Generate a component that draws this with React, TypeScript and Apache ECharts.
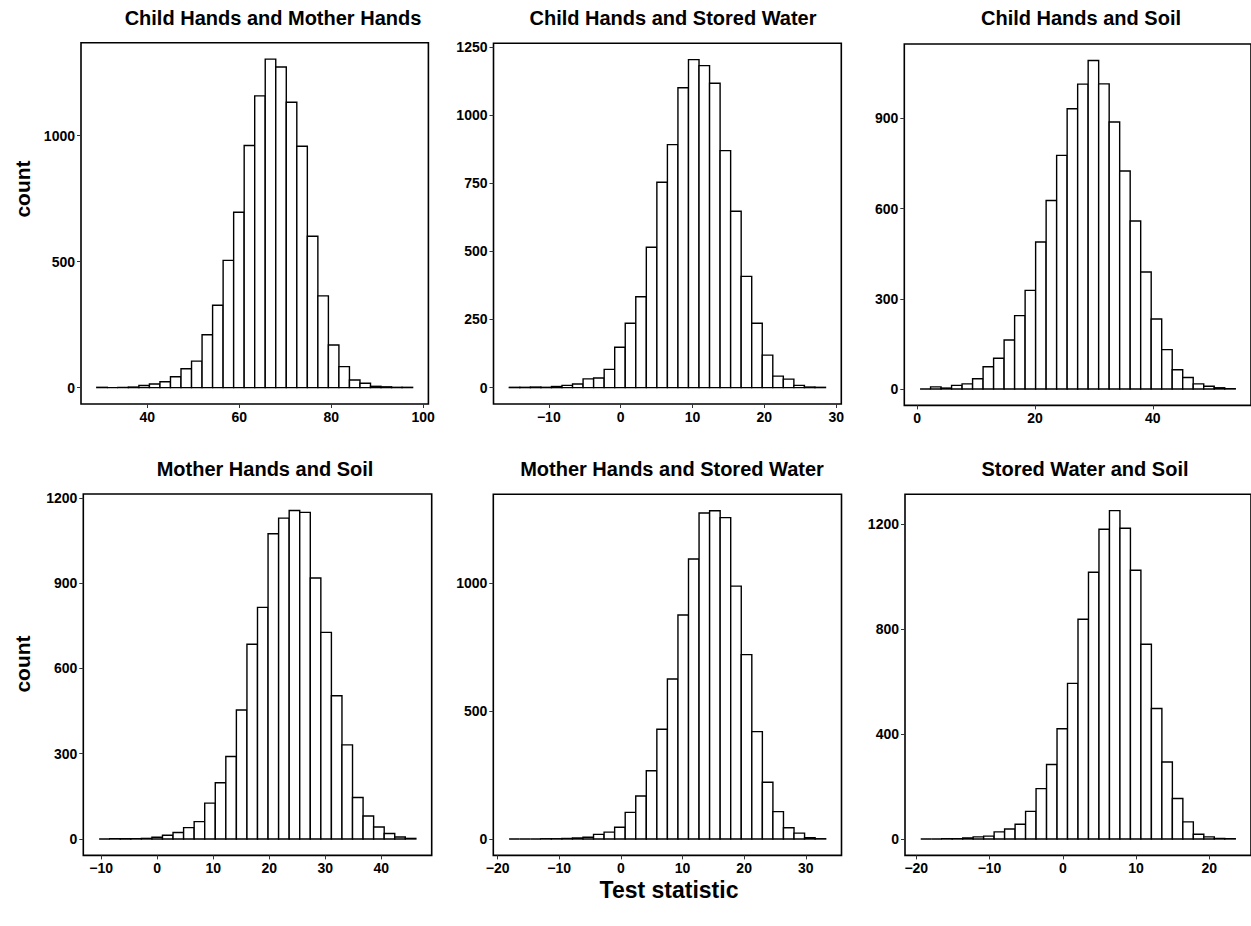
import React, { useEffect, useRef } from "react";
import * as echarts from "echarts";

// Permutation test statistic histograms, 30 bins per panel.
const panelTitles = [
  "Child Hands and Mother Hands",
  "Child Hands and Stored Water",
  "Child Hands and Soil",
  "Mother Hands and Soil",
  "Mother Hands and Stored Water",
  "Stored Water and Soil",
];

// Left edge of the first bin and bin width for each panel.
const binStarts = [29, -15.5, 0.5, -10.36, -18.13, -19.39];
const binWidths = [2.29, 1.467, 1.783, 1.885, 1.712, 1.431];

// Bin counts.
const childMother = [1, 0, 1, 2, 8, 14, 23, 43, 75, 105, 210, 327, 505, 696, 961, 1158, 1304, 1273, 1133, 958, 601, 364, 169, 83, 30, 17, 5, 3, 1, 1];
const childStored = [1, 1, 2, 1, 4, 8, 13, 32, 35, 67, 148, 236, 333, 515, 753, 891, 1100, 1203, 1181, 1116, 869, 647, 408, 236, 119, 42, 31, 8, 2, 1];
const childSoil = [0, 7, 3, 12, 17, 34, 74, 102, 163, 244, 328, 489, 627, 777, 932, 1014, 1093, 1015, 888, 725, 559, 389, 233, 131, 64, 38, 17, 9, 4, 1];
const motherSoil = [0, 1, 1, 1, 2, 6, 13, 23, 40, 61, 126, 198, 290, 454, 685, 815, 1074, 1129, 1156, 1149, 918, 727, 504, 331, 146, 81, 42, 19, 7, 2];
const motherStored = [0, 0, 0, 1, 1, 2, 4, 7, 18, 27, 46, 104, 168, 267, 429, 626, 876, 1095, 1275, 1284, 1257, 989, 721, 420, 222, 107, 44, 23, 5, 1];
const storedSoil = [0, 0, 1, 1, 4, 8, 11, 27, 38, 56, 105, 192, 284, 420, 593, 837, 1016, 1180, 1251, 1184, 1024, 742, 497, 293, 154, 65, 18, 8, 2, 1];

const panelCounts = [childMother, childStored, childSoil, motherSoil, motherStored, storedSoil];

// Tick positions on each axis.
const xTicks = [
  [40, 60, 80, 100],
  [-10, 0, 10, 20, 30],
  [0, 20, 40],
  [-10, 0, 10, 20, 30, 40],
  [-20, -10, 0, 10, 20, 30],
  [-20, -10, 0, 10, 20],
];
const yTicks = [
  [0, 500, 1000],
  [0, 250, 500, 750, 1000, 1250],
  [0, 300, 600, 900],
  [0, 300, 600, 900, 1200],
  [0, 500, 1000],
  [0, 400, 800, 1200],
];

// Panel rectangles in page pixels.
const boxes = [
  { l: 81, t: 42.7, r: 428.4, b: 404 },
  { l: 493.5, t: 43.2, r: 841.3, b: 404 },
  { l: 904.3, t: 44, r: 1252.8, b: 405.4 },
  { l: 83.3, t: 494, r: 431.7, b: 855.4 },
  { l: 493.3, t: 494.3, r: 841.5, b: 855.4 },
  { l: 905, t: 494.2, r: 1252.8, b: 855.4 },
];
const titleCenters = [
  [273, 17.5],
  [673, 17.5],
  [1081, 17.5],
  [265, 468.5],
  [672, 468.5],
  [1085, 468.5],
];

const FONT = "'Liberation Sans', Arial, Helvetica, sans-serif";
const fmt = (v: number) => (v < 0 ? "\u2212" + Math.abs(v) : String(v));

function buildOption() {
  const grid: any[] = [];
  const xAxis: any[] = [];
  const yAxis: any[] = [];
  const series: any[] = [];
  const graphic: any[] = [];

  panelCounts.forEach((counts, i) => {
    const start = binStarts[i];
    const w = binWidths[i];
    const end = start + w * counts.length;
    const pad = 0.05 * (end - start);
    const maxC = Math.max(...counts);
    const box = boxes[i];

    grid.push({
      left: box.l,
      top: box.t,
      width: box.r - box.l,
      height: box.b - box.t,
      show: true,
      borderColor: "#000",
      borderWidth: 1.6,
      backgroundColor: "transparent",
      containLabel: false,
    });

    xAxis.push({
      type: "value",
      gridIndex: i,
      min: start - pad,
      max: end + pad,
      axisLine: { show: false, onZero: false },
      splitLine: { show: false },
      axisTick: {
        show: true,
        length: 4,
        customValues: xTicks[i],
        lineStyle: { color: "#333", width: 1 },
      },
      axisLabel: {
        customValues: xTicks[i],
        formatter: (v: number) => fmt(v),
        color: "#000",
        fontWeight: "bold",
        fontSize: 14,
        fontFamily: FONT,
        margin: 6,
        hideOverlap: false,
        showMinLabel: true,
        showMaxLabel: true,
      },
    });

    yAxis.push({
      type: "value",
      gridIndex: i,
      min: -0.05 * maxC,
      max: 1.05 * maxC,
      axisLine: { show: false, onZero: false },
      splitLine: { show: false },
      axisTick: {
        show: true,
        length: 4,
        customValues: yTicks[i],
        lineStyle: { color: "#333", width: 1 },
      },
      axisLabel: {
        customValues: yTicks[i],
        formatter: (v: number) => fmt(v),
        color: "#000",
        fontWeight: "bold",
        fontSize: 14,
        fontFamily: FONT,
        margin: 6,
        showMinLabel: true,
        showMaxLabel: true,
      },
    });

    series.push({
      type: "custom",
      xAxisIndex: i,
      yAxisIndex: i,
      clip: false,
      encode: { x: [0, 1], y: 2 },
      data: counts.map((c, k) => [start + k * w, start + (k + 1) * w, c]),
      renderItem: (_params: any, api: any) => {
        const p0 = api.coord([api.value(0), api.value(2)]);
        const p1 = api.coord([api.value(1), 0]);
        return {
          type: "rect",
          shape: { x: p0[0], y: p0[1], width: p1[0] - p0[0], height: p1[1] - p0[1] },
          style: { fill: "#fff", stroke: "#000", lineWidth: 1.4 },
        };
      },
    });

    graphic.push({
      type: "text",
      x: titleCenters[i][0],
      y: titleCenters[i][1],
      style: {
        text: panelTitles[i],
        textAlign: "center",
        textVerticalAlign: "middle",
        fontSize: 20,
        fontWeight: "bold",
        fontFamily: FONT,
        fill: "#000",
      },
    });
  });

  graphic.push(
    {
      type: "text",
      x: 22,
      y: 189,
      rotation: Math.PI / 2,
      style: {
        text: "count",
        textAlign: "center",
        textVerticalAlign: "middle",
        fontSize: 21,
        fontWeight: "bold",
        fontFamily: FONT,
        fill: "#000",
      },
    },
    {
      type: "text",
      x: 22,
      y: 664,
      rotation: Math.PI / 2,
      style: {
        text: "count",
        textAlign: "center",
        textVerticalAlign: "middle",
        fontSize: 21,
        fontWeight: "bold",
        fontFamily: FONT,
        fill: "#000",
      },
    },
    {
      type: "text",
      x: 669,
      y: 890,
      style: {
        text: "Test statistic",
        textAlign: "center",
        textVerticalAlign: "middle",
        fontSize: 23,
        fontWeight: "bold",
        fontFamily: FONT,
        fill: "#000",
      },
    }
  );

  return {
    animation: false,
    backgroundColor: "#fff",
    grid,
    xAxis,
    yAxis,
    series,
    graphic,
  };
}

export default function App() {
  const ref = useRef<HTMLDivElement>(null);
  useEffect(() => {
    if (!ref.current) return;
    const chart = echarts.init(ref.current, undefined, { renderer: "svg" });
    chart.setOption(buildOption() as any);
    return () => chart.dispose();
  }, []);
  return (
    <div
      ref={ref}
      style={{ position: "absolute", left: 0, top: 0, width: 1251, height: 926 }}
    />
  );
}
